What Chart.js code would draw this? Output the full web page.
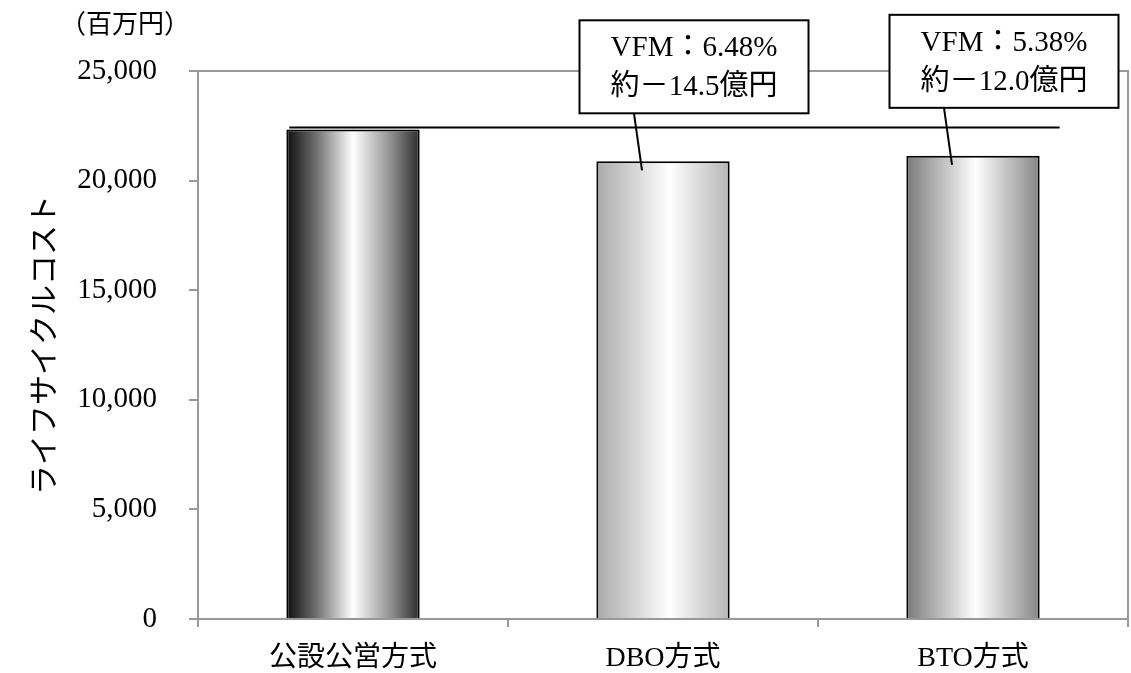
<!DOCTYPE html>
<html><head><meta charset="utf-8">
<script src="https://cdn.jsdelivr.net/npm/chart.js@4.4.0/dist/chart.umd.min.js"></script>
<style>html,body{margin:0;padding:0;background:#fff}canvas{display:block}</style>
</head><body>
<canvas id="c" width="1131" height="673"></canvas>
<script>
const categories = ['公設公営方式', 'DBO方式', 'BTO方式'];
const lifecycleCost = [22330, 20880, 21130];
const baselineValue = [22420];
const yTickValues = [0, 5000, 10000, 15000, 20000, 25000];
const calloutTexts = [null, ['VFM：6.48%', '約－14.5億円'], ['VFM：5.38%', '約－12.0億円']];
const unitLabel = '（百万円）';
const yAxisTitle = 'ライフサイクルコスト';

const SERIF = "'Liberation Serif', 'Noto Sans CJK JP', serif";
const CJK = "'Noto Sans CJK JP', sans-serif";
const BAR_PCT = 0.43;
const gradStops = [
  [[0,'#0d0d0d'],[0.22,'#6e6e6e'],[0.5,'#ffffff'],[0.8,'#8a8a8a'],[1,'#2a2a2a']],
  [[0,'#a9a9a9'],[0.55,'#ffffff'],[1,'#b5b5b5']],
  [[0,'#7a7a7a'],[0.52,'#ffffff'],[1,'#858585']]
];
function barFill(c){
  const chart = c.chart;
  if (!chart.chartArea || !chart.scales.x) return '#ccc';
  const xs = chart.scales.x;
  const cx = xs.getPixelForValue(c.dataIndex);
  const w = xs.width / categories.length * BAR_PCT;
  const g = chart.ctx.createLinearGradient(cx - w/2, 0, cx + w/2, 0);
  gradStops[c.dataIndex].forEach(s => g.addColorStop(s[0], s[1]));
  return g;
}

const deco = {
  id: 'deco',
  beforeDatasetsDraw(chart){
    const {ctx, chartArea:a} = chart;
    ctx.save();
    ctx.strokeStyle = '#999'; ctx.lineWidth = 2;
    ctx.beginPath();
    ctx.moveTo(a.left, a.top); ctx.lineTo(a.right, a.top); ctx.lineTo(a.right, a.bottom);
    ctx.stroke();
    ctx.restore();
  },
  afterDatasetsDraw(chart){
    const {ctx} = chart;
    const bars = chart.getDatasetMeta(0).data;
    const ys = chart.scales.y;
    ctx.save();
    ctx.strokeStyle = '#000'; ctx.lineWidth = 2;
    const yl = ys.getPixelForValue(baselineValue[0]);
    ctx.beginPath();
    ctx.moveTo(bars[0].x - bars[0].width/2 + 3, yl);
    ctx.lineTo(bars[2].x + bars[2].width/2 + 20, yl);
    ctx.stroke();
    calloutTexts.forEach((t, i) => {
      if (!t) return;
      const b = bars[i];
      const bw = 229, bh = 93;
      const cx = b.x + 31;
      const bottom = b.y - 48, top = bottom - bh;
      ctx.beginPath();
      ctx.moveTo(cx - 60, bottom); ctx.lineTo(b.x - 21, b.y + 9);
      ctx.stroke();
      ctx.fillStyle = '#fff';
      ctx.fillRect(cx - bw/2, top, bw, bh);
      ctx.strokeRect(cx - bw/2, top, bw, bh);
      ctx.fillStyle = '#000';
      ctx.font = '29px ' + SERIF;
      ctx.textAlign = 'center'; ctx.textBaseline = 'middle';
      ctx.fillText(t[0], cx, top + bh/2 - 18);
      ctx.fillText(t[1], cx, top + bh/2 + 21);
    });
    ctx.restore();
  },
  afterDraw(chart){
    const {ctx} = chart;
    ctx.save();
    ctx.fillStyle = '#000';
    ctx.font = '26px ' + SERIF;
    ctx.textAlign = 'left'; ctx.textBaseline = 'middle';
    ctx.fillText(unitLabel, 60, 26);
    ctx.restore();
  }
};

new Chart(document.getElementById('c'), {
  type: 'bar',
  data: {
    labels: categories,
    datasets: [{
      data: lifecycleCost,
      backgroundColor: barFill,
      borderColor: '#000',
      borderWidth: 2,
      barPercentage: BAR_PCT,
      categoryPercentage: 1
    }]
  },
  options: {
    responsive: false,
    animation: false,
    devicePixelRatio: 1,
    layout: { padding: { left: 10, right: 3, top: 71, bottom: 0 } },
    plugins: { legend: { display: false }, tooltip: { enabled: false } },
    scales: {
      x: {
        grid: { display: true, drawOnChartArea: false, drawTicks: true, tickLength: 8, color: '#999', lineWidth: 2, offset: true },
        border: { display: true, color: '#999', width: 2 },
        ticks: { font: { family: SERIF, size: 28 }, color: '#000', padding: 15 },
        afterFit(s){ s.height = 54; }
      },
      y: {
        min: 0, max: 25000,
        afterBuildTicks(s){ s.ticks = yTickValues.map(v => ({ value: v })); },
        grid: { drawOnChartArea: false, drawTicks: true, tickLength: 9, color: '#999', lineWidth: 2 },
        border: { display: true, color: '#999', width: 2 },
        ticks: { font: { family: SERIF, size: 29 }, color: '#000', padding: 32, callback: v => v.toLocaleString('en-US') },
        title: { display: true, text: yAxisTitle, font: { family: CJK, size: 30 }, color: '#000', padding: { top: 15, bottom: 0 } },
        afterFit(s){ s.width = 188; }
      }
    }
  },
  plugins: [deco]
});
</script>
</body></html>
